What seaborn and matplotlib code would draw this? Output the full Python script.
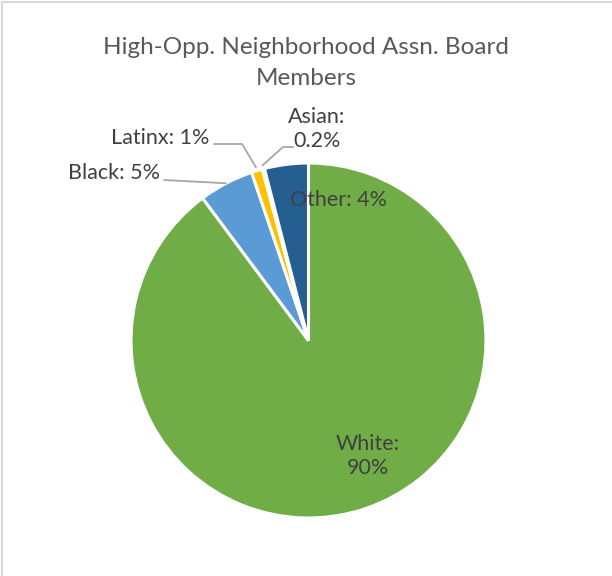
import matplotlib
matplotlib.use("Agg")
import matplotlib.pyplot as plt
from matplotlib.patches import Rectangle
import numpy as np
import seaborn as sns

# Board membership shares by race/ethnicity
groups = ["White", "Black", "Latinx", "Asian", "Other"]
shares = [90, 5, 1, 0.2, 4]
label_texts = ["White:\n90%", "Black: 5%", "Latinx: 1%", "Asian:\n0.2%", "Other: 4%"]
colors = ["#70AD47", "#5B9BD5", "#FFC000", "#4472C4", "#255E91"]
title = "High-Opp. Neighborhood Assn. Board\nMembers"

sns.set_theme(style="white")
plt.rcParams["font.family"] = ["Lato", "DejaVu Sans"]

W, H = 612, 576
fig = plt.figure(figsize=(W / 100, H / 100), dpi=100)
fig.patch.set_facecolor("white")

# chart frame (only top and left edges fall inside the image)
fig.add_artist(Rectangle((1.5 / W, -0.1), 1.2, 1.1 - 2.5 / H,
                         transform=fig.transFigure, fill=False,
                         edgecolor="#D9D9D9", linewidth=1.5))

cx, cy, r = 308.5, 340.5, 177.5
ax = fig.add_axes([(cx - r) / W, (H - cy - r) / H, 2 * r / W, 2 * r / H])
wedges, _ = ax.pie(shares, colors=colors, startangle=90, counterclock=False,
                   wedgeprops=dict(edgecolor="white", linewidth=2.2))
ax.set_xlim(-1, 1)
ax.set_ylim(-1, 1)
ax.set_aspect("equal")
ax.axis("off")


def px(x, y):
    """Pixel position (from the image's top-left) to pie data coordinates."""
    return (x - cx) / r, (cy - y) / r


def edge_point(w, rad=1.0):
    mid = np.deg2rad((w.theta1 + w.theta2) / 2)
    return rad * np.cos(mid), rad * np.sin(mid)


txt_color = "#404040"
fs = 15.5
line_color = "#A6A6A6"

fig.text(0.5, 1 - 63 / H, title, ha="center", va="center", fontsize=17.5,
         color="#595959", linespacing=1.6)

# White (inside)
ax.text(*px(368, 456), label_texts[0], ha="center", va="center",
        fontsize=fs, color=txt_color, linespacing=1.3)
# Other (inside, near top)
ax.text(*px(338, 200), label_texts[4], ha="center", va="center",
        fontsize=fs, color=txt_color)

# Black: label with straight leader
bx, by = px(160, 173)
ax.text(bx, by, label_texts[1], ha="right", va="center", fontsize=fs, color=txt_color)
ex, ey = edge_point(wedges[1])
ax.plot([px(164, 180)[0], ex], [px(164, 180)[1], ey], color=line_color, lw=1.3,
        clip_on=False)

# Latinx: label with elbow leader
lx, ly = px(209, 138)
ax.text(lx, ly, label_texts[2], ha="right", va="center", fontsize=fs, color=txt_color)
ex, ey = edge_point(wedges[2], 1.02)
p1, p2 = px(214, 144), px(242, 144)
ax.plot([p1[0], p2[0], ex], [p1[1], p2[1], ey], color=line_color, lw=1.3,
        clip_on=False)

# Asian: two-line label with elbow leader
ax.text(*px(317, 129), label_texts[3], ha="center", va="center",
        fontsize=fs, color=txt_color, linespacing=1.2)
ex, ey = edge_point(wedges[3], 1.02)
p1, p2 = px(293, 147), px(283, 147)
ax.plot([p1[0], p2[0], ex], [p1[1], p2[1], ey], color=line_color, lw=1.3,
        clip_on=False)

fig.savefig("out.png", dpi=100, facecolor="white")
